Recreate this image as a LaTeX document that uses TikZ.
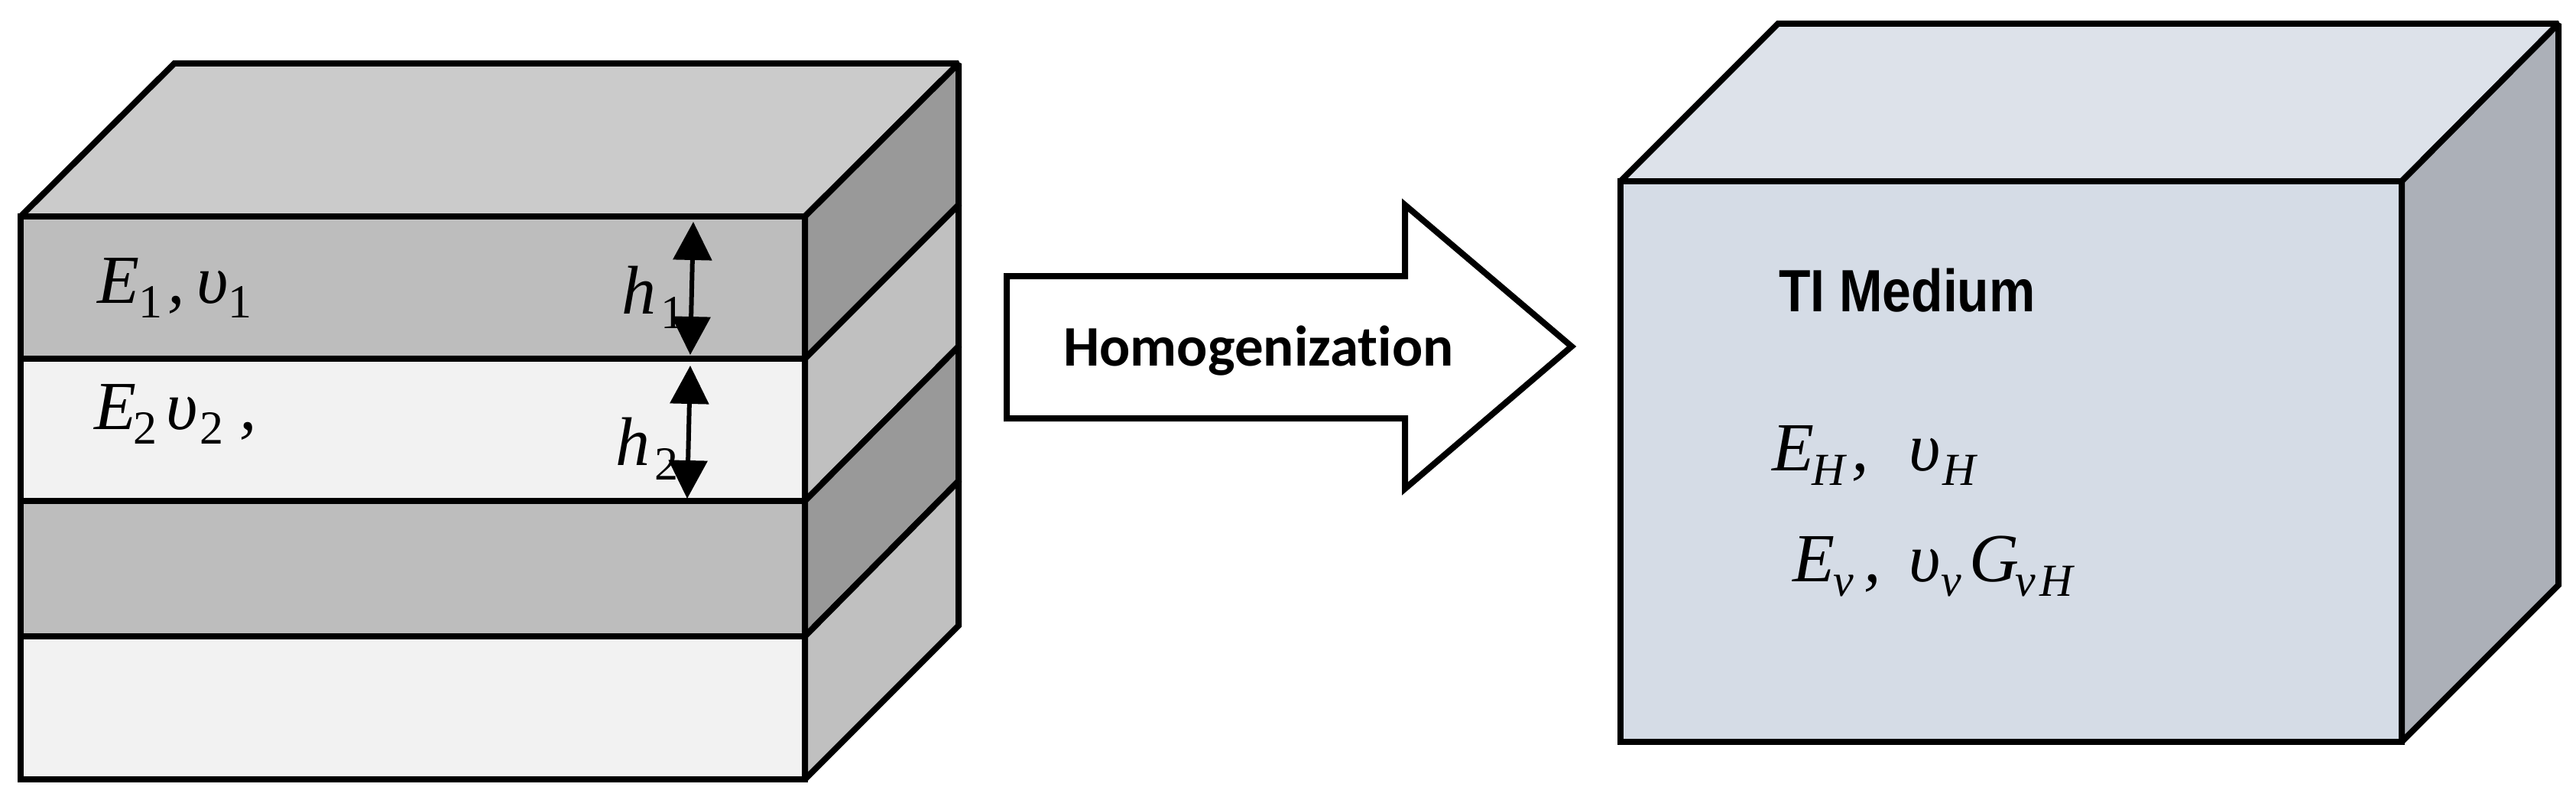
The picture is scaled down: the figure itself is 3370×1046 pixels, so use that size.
\documentclass[tikz,border=0pt]{standalone}
\usepackage{fontspec}
\usetikzlibrary{arrows.meta}
\setmainfont{Liberation Serif}
\newfontfamily\callab[Ligatures=NoCommon]{Carlito}
\newfontfamily\ariallab{Liberation Sans}
\newcommand{\bigit}{\fontsize{90}{96}\selectfont\itshape}
\newcommand{\lowsub}[1]{\raisebox{-19pt}{\fontsize{60}{60}\selectfont #1}}
\newcommand{\lownum}[1]{\raisebox{-19pt}{\fontsize{62}{62}\selectfont\upshape #1}}
\newcommand{\kk}[1]{\kern #1pt\relax}
\definecolor{topgrey}{HTML}{CBCBCB}
\definecolor{banddark}{HTML}{BDBDBD}
\definecolor{bandlight}{HTML}{F2F2F2}
\definecolor{sidedark}{HTML}{999999}
\definecolor{sidelight}{HTML}{C0C0C0}
\definecolor{tifront}{HTML}{D5DCE6}
\definecolor{titop}{HTML}{DDE2EA}
\definecolor{tiside}{HTML}{ACB0B8}
\tikzset{
  edge/.style={draw=black,line width=8pt,line join=miter,miter limit=2},
  mathlab/.style={anchor=base west,inner sep=0pt,outer sep=0pt,font=\bigit},
  dim/.style={line width=6pt,{Triangle[length=50pt,width=50pt]}-{Triangle[length=50pt,width=50pt]}}
}
\begin{document}
\begin{tikzpicture}[x=1pt,y=-1pt]
\useasboundingbox (0,0) rectangle (3370,1046);
% left stack
\path[edge,fill=topgrey] (27,283) -- (228,83) -- (1254,83) -- (1053,283) -- cycle;
\path[edge,fill=banddark] (27,283) rectangle (1053,469);
\path[edge,fill=bandlight] (27,469) rectangle (1053,655);
\path[edge,fill=banddark] (27,655) rectangle (1053,832);
\path[edge,fill=bandlight] (27,832) rectangle (1053,1019);
\path[edge,fill=sidedark] (1053,283) -- (1254,83) -- (1254,268) -- (1053,469) -- cycle;
\path[edge,fill=sidelight] (1053,469) -- (1254,268) -- (1254,453) -- (1053,655) -- cycle;
\path[edge,fill=sidedark] (1053,655) -- (1254,453) -- (1254,629) -- (1053,832) -- cycle;
\path[edge,fill=sidelight] (1053,832) -- (1254,629) -- (1254,818) -- (1053,1019) -- cycle;
% labels left
\node[mathlab] (e1) at (127,396) {E\lownum{1}\kk{7},\kk{15}υ\lownum{1}};
\node[mathlab] (e2) at (123,561) {E\kk{-3}\lownum{2}\kk{12}υ\kk{2}\lownum{2}\kk{21},};
\node[mathlab] (h1) at (813,410) {h\kk{6}\lownum{1}};
\node[mathlab] (h2) at (805,608) {h\kk{6}\lownum{2}};
\coordinate (h1t) at (907,290);
\coordinate (h1b) at (903,464);
\coordinate (h2t) at (903,478);
\coordinate (h2b) at (899,652);
\draw[dim] (h1t) -- (h1b);
\draw[dim] (h2t) -- (h2b);
% block arrow
\path[edge,fill=white,miter limit=10] (1317,361) -- (1838,361) -- (1838,268) -- (2056,453) -- (1838,639) -- (1838,547) -- (1317,547) -- cycle;
\node[anchor=base west,inner sep=0pt] (hom) at (1391,478) {\callab\bfseries\fontsize{75}{80}\selectfont Homogenization};
% right cube
\path[edge,fill=titop] (2120,237) -- (2326,31) -- (3347,31) -- (3142,237) -- cycle;
\path[edge,fill=tifront] (2120,237) rectangle (3142,970);
\path[edge,fill=tiside] (3142,237) -- (3347,31) -- (3347,765) -- (3142,970) -- cycle;
\node[anchor=base west,inner sep=0pt,xscale=.87] (ti) at (2327,407) {\ariallab\bfseries\fontsize{78}{84}\selectfont TI Medium};
\node[mathlab] (eh) at (2318,615) {E\kk{-3}\lowsub{H}\kk{9},\kk{53}υ\kk{2}\lowsub{H}};
\node[mathlab] (ev) at (2345,760) {E\kk{-2}\lowsub{v}\kk{14},\kk{36}υ\kk{1}\lowsub{v}\kk{10}G\kk{-5}\lowsub{v}\kk{6}\lowsub{H}};
\end{tikzpicture}
\end{document}
